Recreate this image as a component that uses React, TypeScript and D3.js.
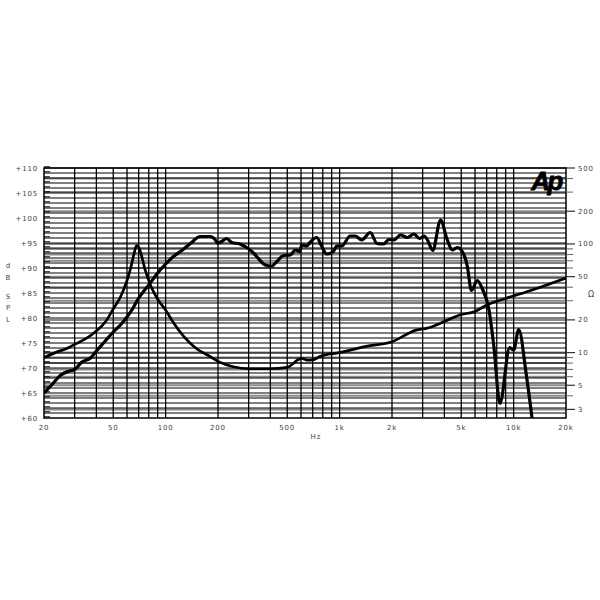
import React, { useEffect, useRef } from "react";
import * as d3 from "d3";

// Frequency ticks (Hz)
const xTickValues = [20, 50, 100, 200, 500, 1000, 2000, 5000, 10000, 20000];
const xTickLabels = ["20", "50", "100", "200", "500", "1k", "2k", "5k", "10k", "20k"];

// Left axis: SPL (dB)
const dbTickValues = [60, 65, 70, 75, 80, 85, 90, 95, 100, 105, 110];
const dbTickLabels = ["+60", "+65", "+70", "+75", "+80", "+85", "+90", "+95", "+100", "+105", "+110"];

// Right axis: impedance (ohm)
const ohmTickValues = [3, 5, 10, 20, 50, 100, 200, 500];
const ohmTickLabels = ["3", "5", "10", "20", "50", "100", "200", "500"];
const ohmMinorTicks = [3, 4, 5, 6, 7, 8, 9, 10, 20, 30, 40, 50, 60, 70, 80, 90, 100, 200, 300, 400, 500];

// SPL response (Hz, dB)
const splFreq = [20, 22, 25, 28, 30, 33, 37, 40, 45, 50, 55, 60, 65, 70, 75, 80, 90, 100, 110, 125, 140, 158, 180, 190, 200, 212, 224, 240, 267, 292, 320, 349, 373, 408, 436, 476, 521, 557, 591, 605, 646, 675, 737, 788, 841, 920, 961, 1030, 1150, 1230, 1340, 1500, 1640, 1790, 1920, 2050, 2240, 2450, 2680, 2870, 3070, 3200, 3430, 3800, 4150, 4440, 4750, 5190, 5420, 5720, 6180, 6600, 7220, 7700, 8340, 9500, 10000, 10700, 11800, 12800];
const splDb = [65.0, 66.5, 68.6, 69.4, 69.7, 71.2, 72.0, 73.4, 75.4, 77.2, 78.6, 80.2, 82.0, 84.0, 85.4, 86.6, 89.0, 90.8, 92.2, 93.6, 95.0, 96.3, 96.3, 95.9, 95.0, 95.4, 95.9, 95.1, 94.8, 94.1, 93.0, 91.5, 90.6, 90.4, 91.3, 92.5, 92.6, 93.6, 93.3, 94.6, 94.4, 95.1, 96.1, 94.4, 92.8, 93.3, 94.4, 94.4, 96.4, 96.4, 95.6, 97.1, 94.9, 94.8, 95.7, 95.6, 96.6, 96.1, 96.8, 95.9, 96.4, 95.6, 93.5, 99.6, 95.7, 93.6, 94.1, 92.6, 90.3, 85.5, 87.5, 85.9, 81.6, 74.3, 62.9, 74.1, 73.6, 77.7, 68.9, 59.6];

// Impedance (Hz, ohm)
const impFreq = [20, 23.6, 27, 30, 35, 40, 45, 50, 55, 60, 63, 66, 68, 70, 72, 76, 82, 90, 100, 110, 127, 150, 180, 200, 245, 300, 400, 500, 540, 575, 613, 650, 700, 770, 1000, 1420, 2000, 2750, 3150, 4000, 4900, 6000, 7000, 9000, 12800, 20000];
const impOhm = [9.0, 10.1, 10.9, 11.9, 13.5, 15.8, 19.1, 25.2, 32.5, 46.1, 60.1, 82.6, 96.8, 93.7, 82.6, 58.8, 41.5, 31.0, 24.7, 19.2, 14.1, 10.9, 9.2, 8.3, 7.4, 7.1, 7.1, 7.3, 7.9, 8.6, 8.8, 8.5, 8.55, 9.2, 10.0, 11.4, 12.6, 16.1, 16.7, 19.3, 22.2, 23.9, 27.4, 31.5, 37.7, 48.6];

const W = 600;
const H = 600;
const L = 44, R = 566, T = 168, B = 418;

export default function App() {
  const ref = useRef<SVGSVGElement>(null);

  useEffect(() => {
    const svg = d3.select(ref.current);
    svg.selectAll("*").remove();

    const x = d3.scaleLog().domain([20, 20000]).range([L, R]);
    const yDb = d3.scaleLinear().domain([60, 110]).range([B, T]);
    const yOhm = d3.scaleLog().domain([2.5, 500]).range([B, T]);

    svg.append("rect").attr("width", W).attr("height", H).attr("fill", "#fff");

    const clip = svg.append("defs").append("clipPath").attr("id", "plotclip");
    clip.append("rect").attr("x", L).attr("y", T).attr("width", R - L).attr("height", B - T);

    const grid = svg.append("g");
    // gray impedance grid lines
    grid.selectAll("line.og")
      .data(ohmMinorTicks)
      .join("line")
      .attr("x1", L).attr("x2", R)
      .attr("y1", (d) => yOhm(d)).attr("y2", (d) => yOhm(d))
      .attr("stroke", "#8a8a8a").attr("stroke-width", 2);
    // black dB grid lines every 1 dB
    grid.selectAll("line.db")
      .data(d3.range(61, 110, 1))
      .join("line")
      .attr("x1", L).attr("x2", R)
      .attr("y1", (d) => yDb(d)).attr("y2", (d) => yDb(d))
      .attr("stroke", "#000").attr("stroke-width", 1);
    // vertical frequency lines
    const fLines: number[] = [];
    [10, 100, 1000, 10000].forEach((dec) => {
      for (let k = 1; k <= 9; k++) {
        const f = dec * k;
        if (f > 20 && f < 20000) fLines.push(f);
      }
    });
    grid.selectAll("line.f")
      .data(fLines)
      .join("line")
      .attr("x1", (d) => x(d)).attr("x2", (d) => x(d))
      .attr("y1", T).attr("y2", B)
      .attr("stroke", "#000").attr("stroke-width", 1.3);

    // left inner ticks
    grid.selectAll("line.lt")
      .data(d3.range(60, 110.1, 1))
      .join("line")
      .attr("x1", L).attr("x2", L + 6)
      .attr("y1", (d) => yDb(d) - 1.2).attr("y2", (d) => yDb(d) - 1.2)
      .attr("stroke", "#000").attr("stroke-width", 1);

    // frame
    svg.append("rect")
      .attr("x", L).attr("y", T).attr("width", R - L).attr("height", B - T)
      .attr("fill", "none").attr("stroke", "#000").attr("stroke-width", 1.5);

    // Curves
    const plot = svg.append("g").attr("clip-path", "url(#plotclip)");
    const splLine = d3.line<number>()
      .x((_, i) => x(splFreq[i]))
      .y((d) => yDb(d))
      .curve(d3.curveMonotoneX);
    plot.append("path")
      .attr("d", splLine(splDb) || "")
      .attr("fill", "none").attr("stroke", "#000").attr("stroke-width", 3.2)
      .attr("stroke-linejoin", "round");

    const impLine = d3.line<number>()
      .x((_, i) => x(impFreq[i]))
      .y((d) => yOhm(d))
      .curve(d3.curveMonotoneX);
    plot.append("path")
      .attr("d", impLine(impOhm) || "")
      .attr("fill", "none").attr("stroke", "#000").attr("stroke-width", 2.7)
      .attr("stroke-linejoin", "round");

    const txt = { fill: "#444", size: 7, family: "'DejaVu Sans', sans-serif" };

    // left labels
    svg.append("g").selectAll("text")
      .data(dbTickValues)
      .join("text")
      .attr("x", 38).attr("y", (d) => yDb(d) + 2.5)
      .attr("text-anchor", "end")
      .attr("font-size", txt.size).attr("font-family", txt.family)
      .attr("letter-spacing", 0.8).attr("fill", txt.fill)
      .text((_, i) => dbTickLabels[i]);

    // dB SPL vertical title
    const title = ["d", "B", "S", "P", "L"];
    const titleY = [268, 280, 299, 310, 322];
    title.forEach((c, i) => {
      svg.append("text").attr("x", 8).attr("y", titleY[i])
        .attr("text-anchor", "middle")
        .attr("font-size", 7).attr("font-family", txt.family)
        .attr("fill", txt.fill).text(c);
    });

    // bottom labels
    svg.append("g").selectAll("text")
      .data(xTickValues)
      .join("text")
      .attr("x", (d) => x(d)).attr("y", 430)
      .attr("text-anchor", "middle")
      .attr("font-size", txt.size).attr("font-family", txt.family)
      .attr("letter-spacing", 0.8).attr("fill", txt.fill)
      .text((_, i) => xTickLabels[i]);
    svg.append("text").attr("x", 316).attr("y", 439)
      .attr("text-anchor", "middle")
      .attr("font-size", 7).attr("font-family", txt.family)
      .attr("letter-spacing", 1).attr("fill", txt.fill).text("Hz");

    // right ticks
    svg.append("g").selectAll("line")
      .data(ohmMinorTicks.filter((d) => !ohmTickValues.includes(d)))
      .join("line")
      .attr("x1", R).attr("x2", R + 7)
      .attr("y1", (d) => yOhm(d)).attr("y2", (d) => yOhm(d))
      .attr("stroke", "#666").attr("stroke-width", 1);
    svg.append("g").selectAll("line")
      .data(ohmTickValues)
      .join("line")
      .attr("x1", R).attr("x2", R + 9)
      .attr("y1", (d) => yOhm(d)).attr("y2", (d) => yOhm(d))
      .attr("stroke", "#333").attr("stroke-width", 1.2);
    svg.append("g").selectAll("text")
      .data(ohmTickValues)
      .join("text")
      .attr("x", 578).attr("y", (d) => yOhm(d) + 2.5)
      .attr("text-anchor", "start")
      .attr("font-size", txt.size).attr("font-family", txt.family)
      .attr("letter-spacing", 0.8).attr("fill", txt.fill)
      .text((_, i) => ohmTickLabels[i]);
    svg.append("text").attr("x", 591).attr("y", 297)
      .attr("text-anchor", "middle")
      .attr("font-size", 8).attr("font-family", txt.family)
      .attr("fill", txt.fill).text("Ω");

    // Ap logo
    svg.append("text").attr("x", 546).attr("y", 190)
      .attr("text-anchor", "middle")
      .attr("font-size", 26).attr("font-weight", "900").attr("font-style", "italic")
      .attr("font-family", "'Liberation Sans', Arial, sans-serif")
      .attr("letter-spacing", -2.5)
      .attr("stroke", "#000").attr("stroke-width", 0.8)
      .attr("fill", "#000").text("Ap");
  }, []);

  return (
    <svg
      ref={ref}
      width={W}
      height={H}
      style={{ position: "absolute", left: 0, top: 0, display: "block" }}
    />
  );
}
